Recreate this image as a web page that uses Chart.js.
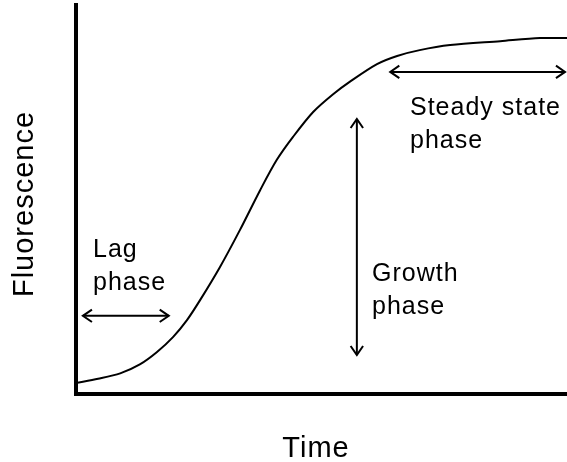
<!DOCTYPE html>
<html lang="en">
  <head>
    <meta charset="UTF-8" />
    <title>Fluorescence vs time</title>
    <script src="https://cdn.jsdelivr.net/npm/chart.js@4.4.0/dist/chart.umd.min.js"></script>
    <style>
      html, body { margin: 0; padding: 0; background: #fff; }
      #wrap { width: 567px; height: 462px; position: relative; }
    </style>
  </head>
  <body>
    <div id="wrap"><canvas id="chart"></canvas></div>
    <script>
      // curve (time and fluorescence as 0-100 of the axes)
      const timeVals = [0, 4.5, 9.0, 13.0, 16.5, 19.8, 22.6, 25.3, 29.3, 33.4, 37.5, 40.9, 44.2, 48.3, 52.3, 55.8, 61.3, 65.4, 70, 76.2, 86.4, 94.5, 100];
      const fluorVals = [2.8, 3.9, 5.3, 7.6, 10.8, 14.7, 19.0, 24.2, 32.6, 42.2, 52.4, 60.2, 66.1, 72.5, 77.0, 80.3, 84.8, 86.9, 88.4, 89.7, 90.7, 91.5, 91.5];

      // axis titles
      const xTitle = "Time";
      const yTitle = "Fluorescence";

      // phase arrows, in data units: [x1, y1, x2, y2]
      const phaseArrows = [
        [1.4, 20.1, 18.9, 20.1],   // lag
        [57.2, 70.7, 57.2, 10.0],  // growth
        [64.0, 82.8, 99.6, 82.8],  // steady state
      ];
      const phaseLabels = [["Lag", "phase"], ["Growth", "phase"], ["Steady state", "phase"]];

      const points = timeVals.map((t, i) => ({ x: t, y: fluorVals[i] }));

      function arrowHead(ctx, x, y, ang) {
        const len = 11, spread = 0.6;
        ctx.beginPath();
        ctx.moveTo(x + len * Math.cos(ang + Math.PI - spread), y + len * Math.sin(ang + Math.PI - spread));
        ctx.lineTo(x, y);
        ctx.lineTo(x + len * Math.cos(ang + Math.PI + spread), y + len * Math.sin(ang + Math.PI + spread));
        ctx.stroke();
      }

      const annotations = {
        id: "annotations",
        afterDraw(chart) {
          const ctx = chart.ctx;
          const xs = chart.scales.x, ys = chart.scales.y;
          ctx.save();
          ctx.strokeStyle = "#000";
          ctx.fillStyle = "#000";
          ctx.lineWidth = 2;

          phaseArrows.forEach(([a, b, c, d]) => {
            const x1 = xs.getPixelForValue(a), y1 = ys.getPixelForValue(b);
            const x2 = xs.getPixelForValue(c), y2 = ys.getPixelForValue(d);
            ctx.beginPath();
            ctx.moveTo(x1, y1);
            ctx.lineTo(x2, y2);
            ctx.stroke();
            const ang = Math.atan2(y2 - y1, x2 - x1);
            arrowHead(ctx, x2, y2, ang);
            arrowHead(ctx, x1, y1, ang + Math.PI);
          });

          // phase labels
          ctx.font = "25px 'Liberation Sans', Arial, sans-serif";
          ctx.letterSpacing = "1px";
          ctx.textAlign = "left";
          ctx.textBaseline = "alphabetic";
          const spots = [[93, 257], [372, 281], [410, 115]];
          phaseLabels.forEach((lines, i) => {
            lines.forEach((t, j) => ctx.fillText(t, spots[i][0], spots[i][1] + j * 33));
          });

          // axis titles
          ctx.font = "29px 'Liberation Sans', Arial, sans-serif";
          ctx.textAlign = "center";
          ctx.fillText(xTitle, 316, 457);
          ctx.translate(33, 204);
          ctx.rotate(-Math.PI / 2);
          ctx.fillText(yTitle, 0, 0);
          ctx.restore();
        },
      };

      new Chart(document.getElementById("chart"), {
        type: "line",
        data: {
          datasets: [
            {
              data: points,
              borderColor: "#000",
              borderWidth: 2,
              pointRadius: 0,
              fill: false,
              tension: 0.3,
            },
          ],
        },
        options: {
          responsive: true,
          maintainAspectRatio: false,
          animation: false,
          layout: { padding: { left: 76, top: 5, right: 0, bottom: 68 } },
          plugins: { legend: { display: false }, tooltip: { enabled: false } },
          scales: {
            x: {
              type: "linear",
              min: 0,
              max: 100,
              grid: { display: false },
              ticks: { display: false },
              border: { display: true, color: "#000", width: 4 },
              afterFit: (s) => { s.height = 0; },
            },
            y: {
              min: 0,
              max: 100,
              grid: { display: false },
              ticks: { display: false },
              border: { display: true, color: "#000", width: 4 },
              afterFit: (s) => { s.width = 0; },
            },
          },
        },
        plugins: [annotations],
      });
    </script>
  </body>
</html>
